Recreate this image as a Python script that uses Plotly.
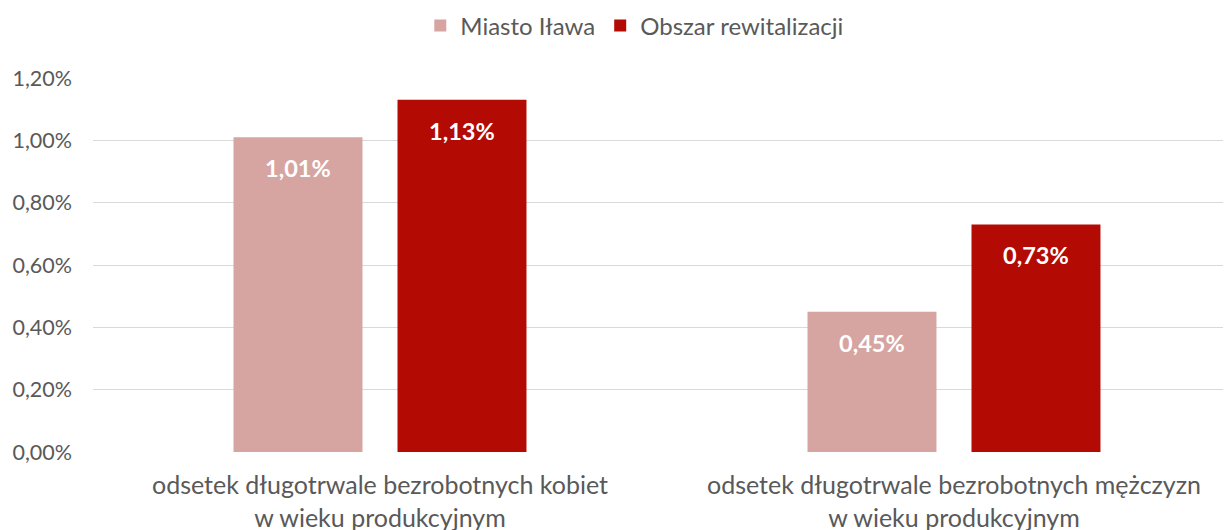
import plotly.graph_objects as go

categories = [
    "odsetek długotrwale bezrobotnych kobiet<br>w wieku produkcyjnym",
    "odsetek długotrwale bezrobotnych mężczyzn<br>w wieku produkcyjnym",
]
series_names = ["Miasto Iława", "Obszar rewitalizacji"]
miasto = [1.01, 0.45]
obszar = [1.13, 0.73]
colors = ["#D6A5A1", "#B30A04"]
label_texts_miasto = ["1,01%", "0,45%"]
label_texts_obszar = ["1,13%", "0,73%"]
ytick_vals = [0, 0.2, 0.4, 0.6, 0.8, 1.0, 1.2]
ytick_text = ["0,00%", "0,20%", "0,40%", "0,60%", "0,80%", "1,00%", "1,20%"]

xpos = [0, 1]
bar_w = 0.2247
offsets = [-0.2552, 0.0305]

font_family = "Lato, sans-serif"
text_color = "#595959"

fig = go.Figure()
for name, vals, col, off in zip(series_names, [miasto, obszar], colors, offsets):
    fig.add_trace(go.Bar(
        x=xpos, y=vals, name=name, marker_color=col,
        marker_line_width=0, width=bar_w, offset=off,
    ))

for vals, texts, off in [(miasto, label_texts_miasto, offsets[0]), (obszar, label_texts_obszar, offsets[1])]:
    for xi, v, t in zip(xpos, vals, texts):
        fig.add_annotation(
            x=xi + off + bar_w / 2, y=v, text=f"<b>{t}</b>", showarrow=False,
            yshift=-31, font=dict(family=font_family, size=23.5, color="white"),
            xref="x", yref="y",
        )

fig.update_layout(
    width=1223, height=522,
    margin=dict(l=85, r=0, t=70, b=78, autoexpand=False),
    plot_bgcolor="white", paper_bgcolor="white",
    barmode="overlay",
    showlegend=True,
    legend=dict(
        orientation="h", xref="container", yref="container",
        x=0.5125, xanchor="center", y=0.9655, yanchor="middle",
        font=dict(family=font_family, size=24, color=text_color),
        itemwidth=30, traceorder="normal",
    ),
    font=dict(family=font_family, color=text_color),
)
fig.update_xaxes(
    range=[-0.5, 1.4826], tickvals=xpos, ticktext=categories,
    showgrid=False, zeroline=False, showline=False, ticks="",
    tickfont=dict(family=font_family, size=25, color=text_color),
    ticklabelstandoff=16, automargin=False,
)
fig.update_yaxes(
    range=[0, 1.2], tickvals=ytick_vals, ticktext=ytick_text,
    showgrid=True, gridcolor="#D9D9D9", gridwidth=1.3, zeroline=False,
    showline=False, ticks="", automargin=False,
    tickfont=dict(family=font_family, size=21.5, color=text_color),
    ticklabelstandoff=20,
)

fig.write_html("out.html")
